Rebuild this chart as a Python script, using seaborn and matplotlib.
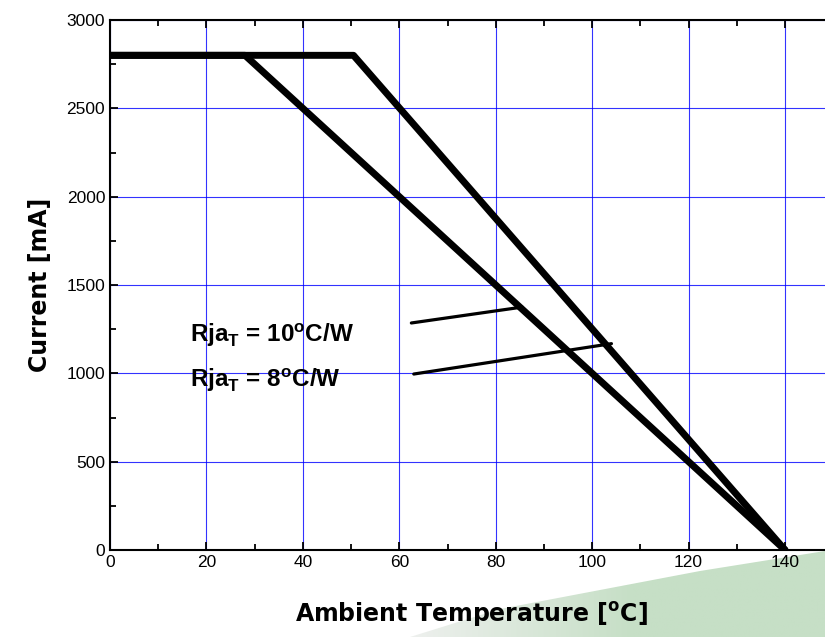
import numpy as np
import pandas as pd
import seaborn as sns
import matplotlib.pyplot as plt
from matplotlib.patches import Polygon

# derating curves
temp_10 = [0, 28, 140]
curr_10 = [2800, 2800, 0]
temp_8 = [0, 50.5, 140]
curr_8 = [2800, 2800, 0]

labels = ['Rja$_\\mathregular{T}$ = 10$^\\mathregular{o}$C/W', 'Rja$_\\mathregular{T}$ = 8$^\\mathregular{o}$C/W']
label_pos = [(16.5, 1215), (16.5, 962)]
arrow_start = [(62.5, 1285), (63.0, 996)]
arrow_end = [(85.5, 1375), (104.0, 1168)]

x_ticks = [0, 20, 40, 60, 80, 100, 120, 140]
y_ticks = [0, 500, 1000, 1500, 2000, 2500, 3000]

df = pd.concat([
    pd.DataFrame({'temp': temp_10, 'current': curr_10, 'curve': '10'}),
    pd.DataFrame({'temp': temp_8, 'current': curr_8, 'curve': '8'}),
])

sns.set_style('ticks')
plt.rcParams['font.family'] = ['Liberation Sans', 'DejaVu Sans']
plt.rcParams['text.color'] = 'black'
plt.rcParams['axes.labelcolor'] = 'black'
plt.rcParams['xtick.color'] = 'black'
plt.rcParams['ytick.color'] = 'black'
plt.rcParams['axes.edgecolor'] = 'black'

fig = plt.figure(figsize=(8.25, 6.37), dpi=100)

# green swoosh in the lower right corner
bg = fig.add_axes([0, 0, 1, 1], zorder=0)
bg.set_xlim(0, 825)
bg.set_ylim(637, 0)
bg.axis('off')
swoosh = Polygon([(410, 637), (500, 609), (600, 590), (700, 571), (825, 551), (825, 637)],
                 closed=True, facecolor='none', edgecolor='none')
bg.add_patch(swoosh)
grad = np.linspace(0, 1, 256).reshape(1, -1)
im = bg.imshow(grad, extent=[400, 825, 637, 540], cmap=sns.light_palette('#c6dfc6', as_cmap=True),
               aspect='auto', vmin=0, vmax=0.55)
im.set_clip_path(swoosh)

ax = fig.add_axes([110 / 825, 1 - 550 / 637, 1 - 110 / 825 + 0.01, 530 / 637], zorder=1)
ax.patch.set_alpha(0)

sns.lineplot(data=df, x='temp', y='current', units='curve', estimator=None,
             color='black', linewidth=5, ax=ax, legend=False, sort=False)

ax.set_xlim(0, 150)
ax.set_ylim(0, 3000)
ax.set_xticks(x_ticks)
ax.set_yticks(y_ticks)
ax.set_xticks(range(10, 150, 20), minor=True)
ax.set_yticks(range(250, 3000, 500), minor=True)
ax.grid(True, which='major', color='blue', linewidth=0.8, alpha=0.8)
ax.tick_params(which='both', direction='in', top=True, right=False, labelsize=12.5, width=1.3)
ax.tick_params(which='major', length=6)
ax.tick_params(which='minor', length=4)
ax.spines['right'].set_visible(False)
for s in ['left', 'bottom', 'top']:
    ax.spines[s].set_linewidth(1.5)

ax.set_xlabel('Ambient Temperature [$^\\mathregular{o}$C]', fontsize=17, fontweight='bold',
              family='DejaVu Sans', labelpad=22)
ax.set_ylabel('Current [mA]', fontsize=17, fontweight='bold', family='DejaVu Sans', labelpad=10)

for lab, pos, a, b in zip(labels, label_pos, arrow_start, arrow_end):
    ax.text(pos[0], pos[1], lab, fontsize=17.5, fontweight='bold', va='center')
    ax.plot([a[0], b[0]], [a[1], b[1]], color='black', linewidth=2.3)

fig.savefig('out.png', dpi=100)
